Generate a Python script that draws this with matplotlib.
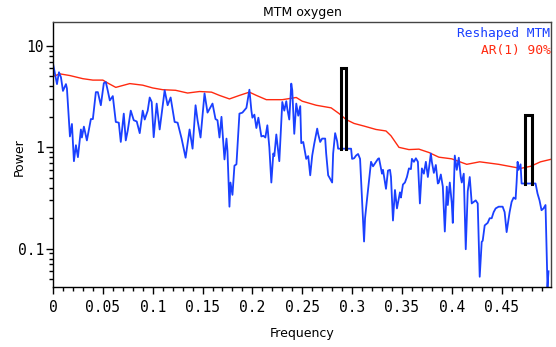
import matplotlib
matplotlib.use('Agg')
from matplotlib import pyplot as plt
from matplotlib.ticker import FixedLocator, FuncFormatter, MultipleLocator, LogLocator

# reshaped MTM spectrum
mtm_freq = [0.000, 0.004, 0.006, 0.008, 0.010, 0.013, 0.014, 0.017, 0.019, 0.021,
            0.023, 0.025, 0.028, 0.029, 0.031, 0.034, 0.038, 0.040, 0.043, 0.045,
            0.048, 0.051, 0.053, 0.055, 0.057, 0.060, 0.063, 0.066, 0.068, 0.071,
            0.073, 0.075, 0.078, 0.081, 0.084, 0.087, 0.090, 0.092, 0.095, 0.097,
            0.099, 0.101, 0.104, 0.107, 0.112, 0.115, 0.118, 0.122, 0.125, 0.129,
            0.133, 0.137, 0.140, 0.143, 0.145, 0.148, 0.152, 0.155, 0.160, 0.163,
            0.165, 0.167, 0.169, 0.172, 0.174, 0.175, 0.177, 0.178, 0.180, 0.182,
            0.184, 0.187, 0.190, 0.194, 0.197, 0.199, 0.200, 0.202, 0.204, 0.206,
            0.209, 0.211, 0.213, 0.215, 0.217, 0.219, 0.221, 0.222, 0.224, 0.227,
            0.230, 0.232, 0.234, 0.235, 0.237, 0.239, 0.240, 0.242, 0.244, 0.246,
            0.248, 0.249, 0.251, 0.254, 0.256, 0.258, 0.260, 0.262, 0.265, 0.266,
            0.268, 0.270, 0.273, 0.274, 0.276, 0.277, 0.280, 0.281, 0.283, 0.285,
            0.286, 0.299, 0.300, 0.302, 0.304, 0.306, 0.308, 0.312, 0.313, 0.314,
            0.315, 0.319, 0.321, 0.324, 0.326, 0.327, 0.330, 0.331, 0.334, 0.336,
            0.338, 0.339, 0.341, 0.343, 0.345, 0.348, 0.349, 0.351, 0.353, 0.355,
            0.357, 0.359, 0.360, 0.362, 0.364, 0.366, 0.368, 0.370, 0.372, 0.374,
            0.376, 0.379, 0.380, 0.382, 0.384, 0.386, 0.387, 0.389, 0.391, 0.393,
            0.395, 0.396, 0.398, 0.400, 0.401, 0.403, 0.405, 0.407, 0.409, 0.410,
            0.412, 0.414, 0.416, 0.418, 0.420, 0.422, 0.424, 0.426, 0.428, 0.430,
            0.431, 0.433, 0.436, 0.438, 0.440, 0.442, 0.444, 0.447, 0.450, 0.451,
            0.453, 0.455, 0.458, 0.460, 0.462, 0.464, 0.465, 0.466, 0.467, 0.469,
            0.470, 0.484, 0.486, 0.488, 0.490, 0.492, 0.494, 0.495, 0.496, 0.497]
mtm_power = [6.7, 4.2, 5.5, 4.9, 3.6, 4.2, 3.8, 1.28, 1.7, 0.73,
             1.05, 0.80, 1.5, 1.25, 1.6, 1.17, 1.9, 1.9, 3.5, 3.5,
             2.6, 4.3, 4.4, 3.6, 2.9, 3.2, 1.78, 1.75, 1.13, 2.15,
             1.17, 1.47, 2.3, 1.85, 1.8, 1.38, 2.3, 1.88, 2.3, 3.1,
             2.8, 1.26, 2.7, 1.5, 3.65, 2.6, 3.1, 1.78, 1.75, 1.22,
             0.79, 1.5, 0.97, 2.6, 1.85, 1.25, 3.4, 2.2, 2.7, 1.9,
             1.85, 1.25, 2.0, 0.76, 1.22, 0.92, 0.26, 0.45, 0.34, 0.66,
             0.68, 2.15, 2.2, 2.45, 3.7, 2.3, 1.96, 2.1, 1.55, 1.96,
             1.28, 1.3, 1.25, 1.65, 1.0, 0.45, 0.87, 0.82, 1.34, 0.73,
             2.8, 2.3, 2.85, 2.4, 1.88, 4.25, 3.65, 1.36, 2.7, 2.05,
             2.55, 1.1, 1.13, 0.77, 0.82, 0.53, 0.83, 1.08, 1.53, 1.35,
             1.13, 1.22, 1.22, 0.87, 0.53, 0.51, 0.45, 0.87, 1.38, 1.15,
             0.97, 0.97, 0.77, 0.78, 0.83, 0.86, 0.77, 0.118, 0.2, 0.25,
             0.31, 0.72, 0.65, 0.72, 0.77, 0.78, 0.55, 0.6, 0.39, 0.59,
             0.6, 0.51, 0.19, 0.38, 0.25, 0.36, 0.32, 0.43, 0.45, 0.51,
             0.62, 0.61, 0.77, 0.72, 0.78, 0.72, 0.28, 0.62, 0.55, 0.72,
             0.51, 0.87, 0.72, 0.56, 0.67, 0.44, 0.45, 0.54, 0.41, 0.148,
             0.41, 0.27, 0.45, 0.28, 0.18, 0.83, 0.6, 0.79, 0.51, 0.45,
             0.55, 0.099, 0.37, 0.51, 0.28, 0.29, 0.30, 0.28, 0.053, 0.117,
             0.12, 0.17, 0.18, 0.20, 0.20, 0.23, 0.25, 0.26, 0.26, 0.26,
             0.23, 0.146, 0.23, 0.29, 0.32, 0.31, 0.45, 0.72, 0.6, 0.68,
             0.44, 0.44, 0.35, 0.30, 0.24, 0.25, 0.27, 0.11, 0.042, 0.06]

# AR(1) 90% confidence level
ar_freq = [0.000, 0.007, 0.017, 0.030, 0.040, 0.050, 0.055, 0.063, 0.077, 0.090,
           0.100, 0.110, 0.123, 0.135, 0.147, 0.159, 0.167, 0.177, 0.187, 0.197,
           0.204, 0.214, 0.230, 0.244, 0.250, 0.264, 0.279, 0.287, 0.294, 0.302,
           0.312, 0.324, 0.334, 0.339, 0.347, 0.357, 0.367, 0.377, 0.387, 0.400,
           0.415, 0.428, 0.447, 0.469, 0.479, 0.489, 0.499]
ar_power = [5.0, 5.3, 5.1, 4.75, 4.6, 4.6, 4.3, 3.9, 4.25, 4.1,
            3.85, 3.7, 3.65, 3.43, 3.55, 3.5, 3.25, 3.0, 3.25, 3.5,
            3.25, 2.95, 2.95, 3.1, 2.85, 2.6, 2.45, 2.15, 1.88, 1.72,
            1.62, 1.5, 1.45, 1.3, 1.0, 0.95, 0.96, 0.89, 0.8, 0.77,
            0.68, 0.72, 0.68, 0.62, 0.65, 0.72, 0.76]

# harmonic lines (boxes): band edges, base level, line power
line_lo = [0.2887, 0.4737]
line_hi = [0.2943, 0.4803]
line_base = [0.97, 0.44]
line_top = [6.1, 2.07]

mono = 'DejaVu Sans Mono'
fig = plt.figure(figsize=(5.56, 3.47), dpi=100)
ax = fig.add_axes([0.0953, 0.1729, 0.8957, 0.7637])

ax.plot(ar_freq, ar_power, color='#ff2a10', lw=1.0)
ax.plot(mtm_freq, mtm_power, color='#1a40ff', lw=1.3)
for lo, hi, b, t in zip(line_lo, line_hi, line_base, line_top):
    ax.plot([lo, lo, hi, hi], [b, t, t, b], color='black', lw=2.2,
            solid_joinstyle='miter')

ax.set_yscale('log')
ax.set_xlim(0, 0.4995)
ax.set_ylim(0.042, 17.2)

ax.yaxis.set_major_locator(FixedLocator([0.1, 1, 10]))
ax.yaxis.set_minor_locator(LogLocator(base=10, subs=range(2, 10)))
ax.yaxis.set_major_formatter(FuncFormatter(lambda v, p: '%g' % v))
ax.yaxis.set_minor_formatter(FuncFormatter(lambda v, p: ''))
ax.xaxis.set_major_locator(MultipleLocator(0.05))
ax.xaxis.set_minor_locator(MultipleLocator(0.01))
ax.xaxis.set_major_formatter(FuncFormatter(lambda v, p: '%g' % round(v, 3)))

ax.tick_params(which='major', direction='out', length=5, width=1,
               labelsize=10.5)
ax.tick_params(axis='y', which='major', pad=1.5)
ax.tick_params(axis='x', which='major', pad=4)
ax.tick_params(which='minor', direction='out', length=3, width=1)
for lab in ax.get_xticklabels() + ax.get_yticklabels():
    lab.set_family(mono)
for s in ax.spines.values():
    s.set_linewidth(1.0)
ax.spines['top'].set_color('#444444')
ax.spines['right'].set_color('#444444')

ax.set_title('MTM oxygen', fontsize=9, pad=4)
ax.set_xlabel('Frequency', fontsize=9, labelpad=9)
# the y label sits close to the tick labels, as in the original
fig.text(19.5 / 556, 1 - 157 / 347, 'Power', rotation=90, ha='center',
         va='center', fontsize=9)

ax.text(0.999, 0.982, 'Reshaped MTM', transform=ax.transAxes, ha='right',
        va='top', color='#1a40ff', family=mono, fontsize=9.3)
ax.text(0.999, 0.918, 'AR(1) 90%', transform=ax.transAxes, ha='right',
        va='top', color='#ff2a10', family=mono, fontsize=9.3)

fig.savefig('out.png', dpi=100)
